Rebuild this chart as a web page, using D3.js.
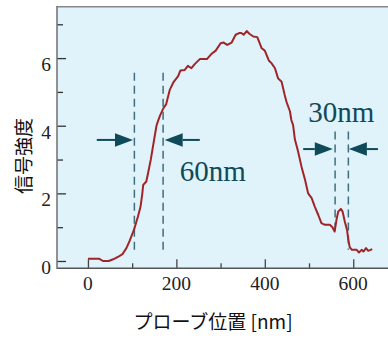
<!DOCTYPE html>
<html><head><meta charset="utf-8">
<script src="https://cdn.jsdelivr.net/npm/d3@7"></script>
<style>body{margin:0;background:#fff}svg{display:block}</style>
</head><body>
<svg id="c" width="388" height="338"></svg>
<script>
// ---- data ----
const positionNm = [0,25,34,47,57,70,78,87,94,104,113,119,123,125,132,136,142,147,155,158,163,170,177,185,194,204,209,219,226,234,242,253,269,279,289,300,307,315,325,334,342,347,352,359,365,374,383,393,400,409,415,423,430,438,445,449,457,460,464,468,475,483,491,498,506,513,521,528,536,547,553,558,562,566,572,576,581,586,589,592,597,608,613,619,623,629,634,643];
const signal = [0.07,0.07,0.0,0.0,0.05,0.14,0.2,0.38,0.59,0.92,1.31,1.61,2.0,2.25,2.35,2.6,2.99,3.38,4.0,4.12,4.3,4.5,4.64,5.06,5.3,5.47,5.63,5.65,5.77,5.7,5.83,5.97,5.97,6.12,6.22,6.44,6.46,6.39,6.46,6.69,6.74,6.74,6.69,6.8,6.72,6.64,6.62,6.29,6.22,5.93,5.85,5.7,5.4,5.3,4.91,4.71,4.42,4.17,4.02,3.6,3.25,2.79,2.4,2.0,1.86,1.61,1.36,1.12,1.07,1.07,1.0,0.87,1.21,1.46,1.54,1.46,1.16,0.92,0.62,0.41,0.33,0.33,0.25,0.33,0.28,0.38,0.3,0.35];
const xMajorTicks = [0,200,400,600];
const xMinorTicks = [100,300,500];
const yMajorTicks = [0,2,4,6];
const yMinorTicks = [1,3,5,7];
const xTitle = "プローブ位置 [nm]";
const yTitle = "信号強度";
// width markers: [left edge nm, right edge nm]
const markerEdges = [[105,170],[559,589]];
const markerLabels = ["60nm","30nm"];

// ---- layout ----
const svg = d3.select("#c");
const L = 57, R = 388.6, T = 6.7, B = 268.3;
const x = d3.scaleLinear().domain([-70,680]).range([L,R]);
const y = d3.scaleLinear().domain([-0.216,7.52]).range([B,T]);

const serif = "'Liberation Serif','Times New Roman',serif";
const sans = "'Noto Sans CJK JP','Noto Sans',sans-serif";
const teal = "#0f4a58";
const dashC = "#3f6e80";

svg.append("rect").attr("x",L).attr("y",T).attr("width",388-L).attr("height",B-T).attr("fill","#e0f2fa");
svg.append("line").attr("x1",L).attr("x2",388).attr("y1",T).attr("y2",T).attr("stroke","#888").attr("stroke-width",1.6);

// axes with inward ticks
const gx = svg.append("g").attr("transform",`translate(0,${B})`);
gx.call(d3.axisBottom(x).tickValues(xMajorTicks).tickSize(-9).tickPadding(0).tickFormat(""));
gx.append("g").call(d3.axisBottom(x).tickValues(xMinorTicks).tickSize(-5).tickFormat(""));
gx.selectAll(".domain").remove();
gx.selectAll("line").attr("stroke","#444").attr("stroke-width",1.3);
gx.selectAll(".lbl").data(xMajorTicks).enter().append("text")
  .attr("x",d=>x(d)).attr("y",22).attr("text-anchor","middle")
  .attr("font-family",serif).attr("font-size",19.5).attr("fill","#222").text(d=>d);

const gy = svg.append("g").attr("transform",`translate(${L},0)`);
gy.call(d3.axisLeft(y).tickValues(yMajorTicks).tickSize(-9).tickFormat(""));
gy.append("g").call(d3.axisLeft(y).tickValues(yMinorTicks).tickSize(-6).tickFormat(""));
gy.selectAll(".domain").remove();
gy.selectAll("line").attr("stroke","#333").attr("stroke-width",1.3);
gy.selectAll(".lbl").data(yMajorTicks).enter().append("text")
  .attr("x",-6).attr("y",d=>y(d)+13).attr("text-anchor","end")
  .attr("font-family",serif).attr("font-size",19.5).attr("fill","#222").text(d=>d);

svg.append("line").attr("x1",L).attr("x2",388).attr("y1",B).attr("y2",B).attr("stroke","#555").attr("stroke-width",1.6);
svg.append("line").attr("x1",L).attr("x2",L).attr("y1",T-0.8).attr("y2",B+0.8).attr("stroke","#777").attr("stroke-width",1.6);

// titles
svg.append("text").attr("x",213).attr("y",329).attr("text-anchor","middle")
  .attr("font-family",sans).attr("font-size",19).attr("fill","#111").text(xTitle);
svg.append("text").attr("transform","translate(31,156) rotate(-90)").attr("text-anchor","middle")
  .attr("font-family",sans).attr("font-size",19).attr("fill","#111").text(yTitle);

// dashed guides
const guides = [
  {x:markerEdges[0][0], y0:0.33, y1:5.57},
  {x:markerEdges[0][1], y0:0.33, y1:5.57},
  {x:markerEdges[1][0], y0:0.9, y1:3.83},
  {x:markerEdges[1][1], y0:0.33, y1:3.83}
];
svg.selectAll(".guide").data(guides).enter().append("line")
  .attr("x1",d=>x(d.x)).attr("x2",d=>x(d.x)).attr("y1",d=>y(d.y1)).attr("y2",d=>y(d.y0))
  .attr("stroke",dashC).attr("stroke-width",1.5).attr("stroke-dasharray","8,5");

// curve
const pts = positionNm.map((p,i)=>[p,signal[i]]);
svg.append("path").datum(pts)
  .attr("d",d3.line().x(d=>x(d[0])).y(d=>y(d[1])))
  .attr("fill","none").attr("stroke","#a02528").attr("stroke-width",2).attr("stroke-linejoin","round");

// arrows: [tail nm, tip nm, y]
const arrows = [
  [20,101.9,3.58],[253,173.6,3.58],
  [486.8,553.8,3.31],[655.9,590.1,3.31]
];
arrows.forEach(a=>{
  const xt = x(a[0]), xp = x(a[1]), yy = y(a[2]);
  const dir = Math.sign(xp-xt), hl = 18, hh = 6.7;
  svg.append("line").attr("x1",xt).attr("x2",xp-dir*hl).attr("y1",yy).attr("y2",yy)
    .attr("stroke",teal).attr("stroke-width",2);
  svg.append("path").attr("d",`M${xp},${yy}L${xp-dir*hl},${yy-hh}L${xp-dir*hl},${yy+hh}Z`).attr("fill",teal);
});

// labels
const labelPos = [[207.6,2.37],[498,4.12]];
svg.selectAll(".ml").data(markerLabels).enter().append("text")
  .attr("x",(d,i)=>x(labelPos[i][0])).attr("y",(d,i)=>y(labelPos[i][1]))
  .attr("font-family",serif).attr("font-size",29).attr("fill",teal).text(d=>d);
</script>
</body></html>
